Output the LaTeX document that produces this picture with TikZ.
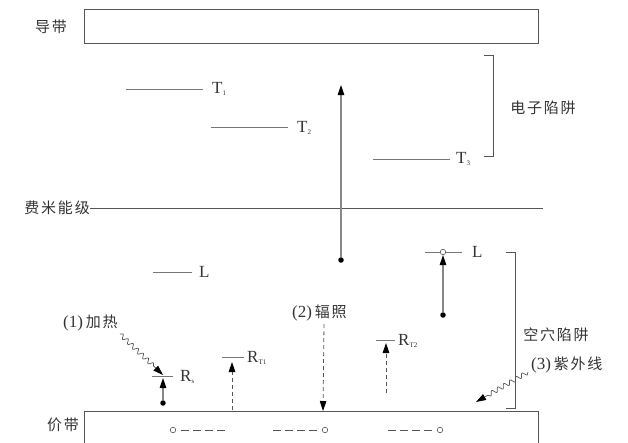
\documentclass[tikz,border=0pt]{standalone}
\usepackage{fontspec}
\setmainfont{Liberation Serif}
\newfontfamily\cjk[LetterSpace=12]{Noto Sans CJK SC}
\usetikzlibrary{arrows.meta,decorations.pathmorphing}
\newcommand{\lowsub}[1]{\raisebox{-2.5pt}{\fontsize{7}{7}\selectfont #1}}
\definecolor{lc}{HTML}{555555}
\definecolor{tc}{HTML}{333333}
\tikzset{
  band/.style={draw=lc, line width=0.9pt},
  lvl/.style={draw=lc!80, line width=0.9pt},
  cn/.style={text=tc, font=\cjk\fontsize{15}{15}\selectfont, inner sep=0pt},
  lat/.style={text=tc, font=\fontsize{17}{17}\selectfont, inner sep=0pt},
  tip/.style={-{Triangle[width=6.5pt,length=10pt,color=black]}},
  arr/.style={draw=lc!70, line width=1.1pt, tip},
  darr/.style={draw=lc, line width=0.8pt, dash pattern=on 4pt off 3pt, tip},
  wavy/.style={draw=lc, line width=0.7pt, tip,
    decorate, decoration={snake, amplitude=2.2pt, segment length=7pt, post length=11pt}},
  dot/.style={circle, fill=black, inner sep=0pt, minimum size=5.5pt},
  hole/.style={circle, draw=lc, fill=white, line width=0.6pt, inner sep=0pt, minimum size=5.5pt},
  dashl/.style={draw=lc, line width=0.8pt, dash pattern=on 7.5pt off 4.5pt},
  brk/.style={draw=lc, line width=0.9pt},
}
\begin{document}
\begin{tikzpicture}[x=1pt,y=-1pt]
\useasboundingbox (0,0) rectangle (628,442);
% conduction band
\draw[band] (84,9) rectangle (538,43);
\node[cn] (cb) at (51,27) {导带};
% electron trap levels
\coordinate (t1a) at (126,89); \coordinate (t1b) at (203,89);
\draw[lvl] (t1a) -- (t1b);
\node[lat, anchor=west] (T1) at (212,89) {T\lowsub{1}};
\coordinate (t2a) at (211,127); \coordinate (t2b) at (288,127);
\draw[lvl] (t2a) -- (t2b);
\node[lat, anchor=west] (T2) at (297,128) {T\lowsub{2}};
\coordinate (t3a) at (373,159); \coordinate (t3b) at (450,159);
\draw[lvl] (t3a) -- (t3b);
\node[lat, anchor=west] (T3) at (456,159) {T\lowsub{3}};
% electron trap bracket
\coordinate (eb1) at (484,55); \coordinate (eb2) at (493,55);
\coordinate (eb3) at (493,156); \coordinate (eb4) at (484,156);
\draw[brk] (eb1) -- (eb2) -- (eb3) -- (eb4);
\node[cn] (et) at (543,108) {电子陷阱};
% Fermi level
\node[cn, anchor=east] (fermi) at (90,208) {费米能级};
\coordinate (fe) at (543,208);
\draw[band] (fermi.east) -- (fe);
% big transition
\node[dot] (e1) at (341,260) {};
\coordinate (e1t) at (341,85);
\draw[arr] (e1) -- (e1t);
% L levels
\coordinate (l1a) at (153,272); \coordinate (l1b) at (192,272);
\draw[lvl] (l1a) -- (l1b);
\node[lat, anchor=west] (L1) at (199,272) {L};
\coordinate (l2a) at (425,252); \coordinate (l2b) at (462,252);
\draw[lvl] (l2a) -- (l2b);
\node[hole] (h1) at (443,252) {};
\node[lat, anchor=west] (L2) at (472,252) {L};
\node[dot] (e2) at (443,315) {};
\draw[arr] (e2) -- (h1);
% hole trap bracket
\coordinate (hb1) at (506,252); \coordinate (hb2) at (515,252);
\coordinate (hb3) at (515,408); \coordinate (hb4) at (506,408);
\draw[brk] (hb1) -- (hb2) -- (hb3) -- (hb4);
\node[cn] (ht) at (556,335) {空穴陷阱};
% valence band
\draw[band] (84,443) -- (84,411) -- (538,411) -- (538,443);
\node[cn] (vb) at (63,425) {价带};
% Rs
\coordinate (rsa) at (152,376); \coordinate (rsb) at (173,376);
\draw[lvl] (rsa) -- (rsb);
\node[lat, anchor=west] (Rs) at (180,377) {R\lowsub{s}};
\node[dot] (e3) at (163,403) {};
\coordinate (e3t) at (163,378);
\draw[arr] (e3) -- (e3t);
% (1) heating
\node[lat, anchor=west] (heat) at (63,323) {(1)\,{\cjk\fontsize{15}{15}\selectfont 加热}};
\coordinate (w1s) at (120,334); \coordinate (w1t) at (163,375);
\draw[wavy] (w1s) -- (w1t);
% RT1
\coordinate (r1a) at (222,357); \coordinate (r1b) at (244,357);
\draw[lvl] (r1a) -- (r1b);
\node[lat, anchor=west] (RT1) at (247,358) {R\lowsub{T1}};
\coordinate (r1s) at (232,410); \coordinate (r1t) at (232,362);
\draw[darr] (r1s) -- (r1t);
% (2) irradiation
\node[lat, anchor=west] (irr) at (292,313) {(2)\,{\cjk\fontsize{15}{15}\selectfont 辐照}};
\coordinate (d2s) at (324,324); \coordinate (d2t) at (323,411);
\draw[darr] (d2s) -- (d2t);
% RT2
\coordinate (r2a) at (376,340); \coordinate (r2b) at (395,340);
\draw[lvl] (r2a) -- (r2b);
\node[lat, anchor=west] (RT2) at (398,341) {R\lowsub{T2}};
\coordinate (r2s) at (386,393); \coordinate (r2t) at (386,343);
\draw[darr] (r2s) -- (r2t);
% (3) UV
\node[lat, anchor=west] (uv) at (531,365) {(3)\,{\cjk\fontsize{15}{15}\selectfont 紫外线}};
\coordinate (w3s) at (528,372); \coordinate (w3t) at (476,402);
\draw[wavy] (w3s) -- (w3t);
% holes in valence band
\node[hole] (p1) at (173,430) {};
\coordinate (p1s) at (181,430); \coordinate (p1e) at (224.5,430);
\draw[dashl] (p1s) -- (p1e);
\node[hole] (p2) at (325,430) {};
\coordinate (p2s) at (273,430); \coordinate (p2e) at (316.5,430);
\draw[dashl] (p2s) -- (p2e);
\node[hole] (p3) at (440,430) {};
\coordinate (p3s) at (388,430); \coordinate (p3e) at (431.5,430);
\draw[dashl] (p3s) -- (p3e);
\end{tikzpicture}
\end{document}
